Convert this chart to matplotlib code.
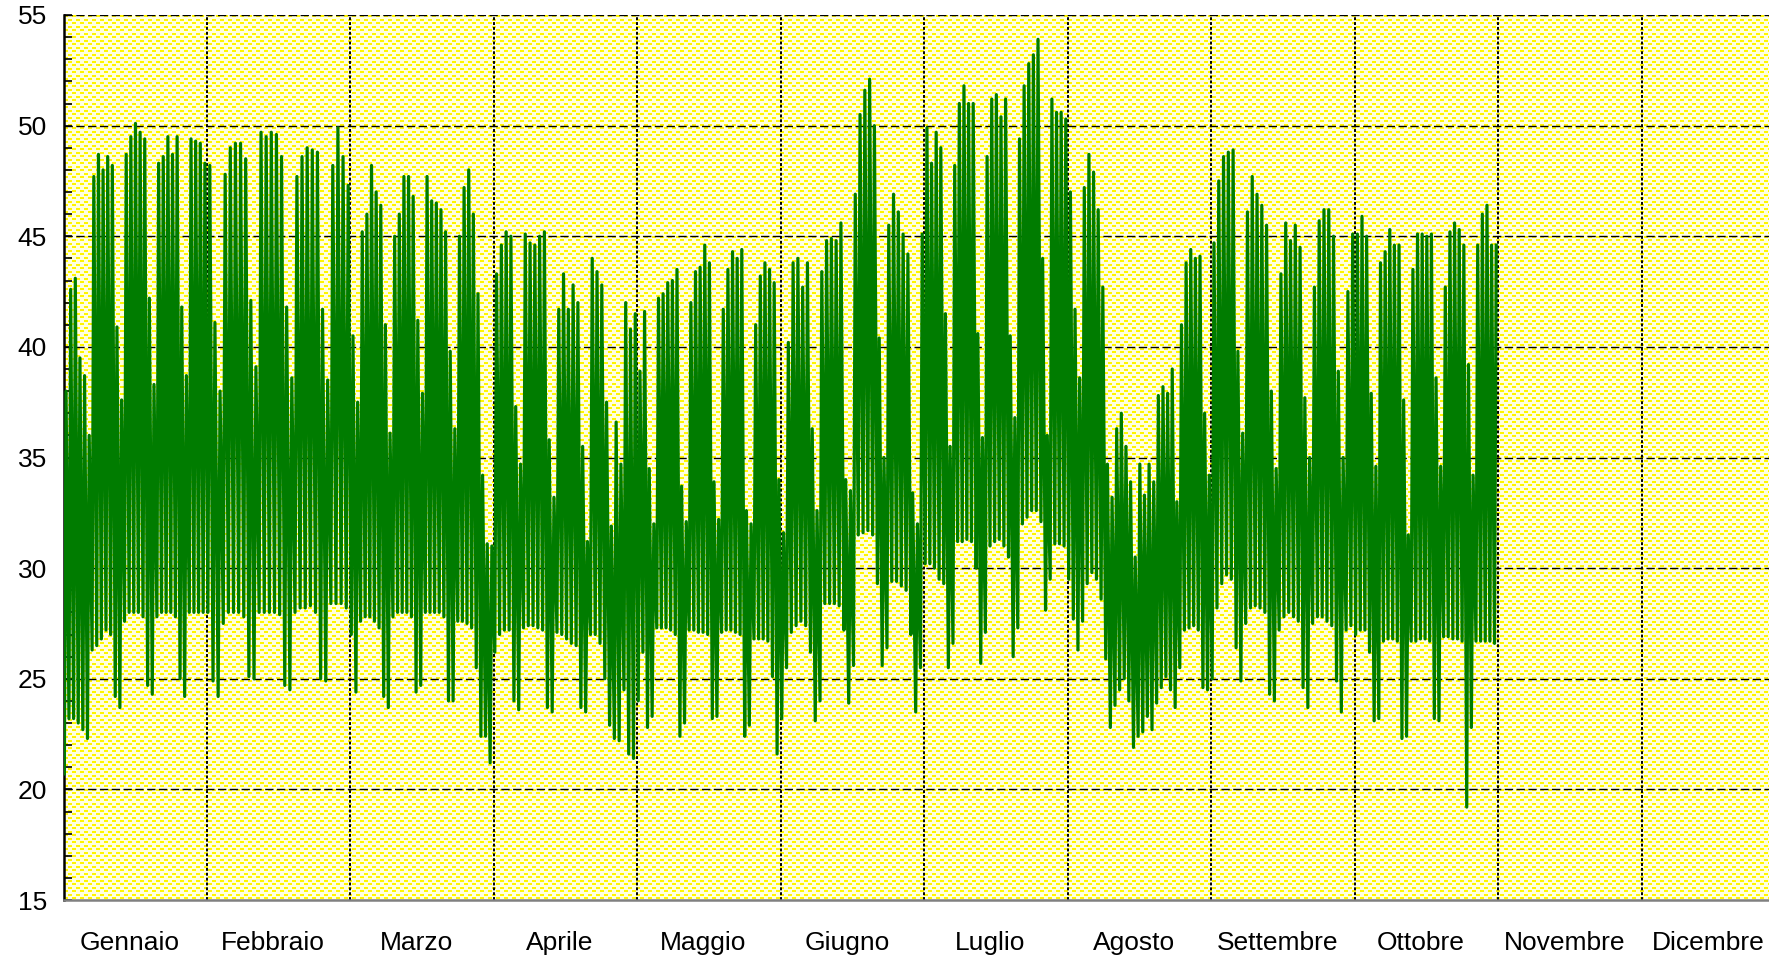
import numpy as np
import matplotlib
matplotlib.use("Agg")
import matplotlib.pyplot as plt
from matplotlib.ticker import MultipleLocator, FixedLocator, FixedFormatter

# Month labels on the x axis
mesi = ["Gennaio", "Febbraio", "Marzo", "Aprile", "Maggio", "Giugno",
        "Luglio", "Agosto", "Settembre", "Ottobre", "Novembre", "Dicembre"]

# Daily peak (pk) and night trough (mn) values, one entry per day
pk_gen = [38.0, 42.6, 43.1, 39.5, 38.7, 36.0, 47.7, 48.7, 48.0, 48.6, 48.2, 40.9, 37.6,
          48.7, 49.5, 50.1, 49.7, 49.4, 42.2, 38.3, 48.3, 48.6, 49.5, 48.7, 49.5, 41.8,
          38.7, 49.4, 49.3, 49.2, 48.3]
mn_gen = [20.7, 23.2, 23.2, 23.0, 22.7, 22.3, 26.3, 26.5, 26.8, 27.2, 27.0, 24.2, 23.7,
          27.6, 28.0, 28.0, 28.0, 27.8, 24.7, 24.3, 27.8, 28.0, 28.0, 28.0, 27.8, 25.0,
          24.2, 28.0, 28.0, 28.0, 28.0]

pk_feb = [48.2, 41.1, 38.0, 47.8, 49.0, 49.2, 49.2, 48.5, 42.1, 39.1, 49.7, 49.5, 49.7,
          49.6, 48.6, 41.8, 38.6, 47.7, 48.6, 49.0, 48.9, 48.8, 41.7, 38.5, 48.2, 49.9,
          48.6, 47.3]
mn_feb = [28.0, 24.9, 24.2, 27.5, 28.0, 28.0, 28.0, 27.8, 25.1, 25.0, 28.0, 28.0, 28.0,
          28.0, 27.9, 24.7, 24.5, 28.0, 28.2, 28.2, 28.3, 28.0, 25.0, 24.9, 28.4, 28.4,
          28.4, 28.2]

pk_mar = [40.5, 37.5, 45.2, 46.0, 48.2, 47.0, 46.4, 41.0, 36.1, 45.0, 46.0, 47.7, 47.7,
          46.8, 41.2, 37.9, 47.7, 46.6, 46.5, 46.2, 45.2, 39.8, 36.3, 45.0, 47.2, 48.0,
          46.0, 42.4, 34.2, 31.1, 31.0]
mn_mar = [27.0, 24.4, 27.6, 27.8, 27.8, 27.6, 27.3, 24.2, 23.7, 27.8, 28.0, 28.0, 28.0,
          27.8, 24.4, 24.7, 28.0, 28.0, 28.0, 28.0, 27.8, 24.0, 24.0, 27.6, 27.6, 27.5,
          27.3, 25.5, 22.4, 22.4, 21.2]

pk_apr = [43.3, 44.6, 45.2, 45.0, 37.3, 34.7, 45.1, 44.7, 44.6, 45.0, 45.2, 35.8, 33.2,
          41.7, 43.3, 41.7, 42.8, 42.0, 35.5, 31.2, 44.0, 43.4, 42.8, 37.5, 31.9, 36.6,
          34.7, 42.0, 40.8, 41.5]
mn_apr = [26.2, 27.0, 27.2, 27.2, 24.0, 23.6, 27.3, 27.4, 27.4, 27.3, 27.2, 23.7, 23.5,
          27.1, 27.0, 26.8, 26.6, 26.5, 23.7, 23.5, 27.0, 27.0, 26.6, 25.0, 22.9, 22.3,
          22.2, 24.5, 21.6, 21.4]

pk_mag = [38.9, 41.6, 34.5, 32.0, 42.2, 42.4, 42.9, 43.0, 43.5, 33.7, 32.1, 42.0, 43.4,
          43.6, 44.6, 43.8, 33.9, 32.2, 41.7, 43.5, 44.3, 44.0, 44.4, 32.6, 32.0, 41.0,
          43.2, 43.8, 43.5, 42.9, 34.0]
mn_mag = [24.0, 26.2, 22.8, 23.3, 27.3, 27.3, 27.3, 27.2, 27.0, 22.4, 23.0, 27.2, 27.2,
          27.1, 27.1, 27.0, 23.2, 23.3, 27.1, 27.2, 27.2, 27.1, 27.0, 22.4, 22.9, 26.8,
          26.8, 26.8, 26.7, 25.1, 21.6]

pk_giu = [31.6, 40.2, 43.8, 44.0, 42.7, 43.8, 36.3, 32.6, 43.4, 44.8, 44.9, 44.8, 45.6,
          34.0, 33.5, 46.9, 50.5, 51.6, 52.1, 50.0, 40.4, 35.0, 45.5, 46.9, 46.1, 45.1,
          44.2, 33.4, 32.0, 45.1]
mn_giu = [23.2, 25.5, 27.1, 27.4, 27.6, 27.4, 26.2, 23.1, 24.0, 28.4, 28.4, 28.4, 28.3,
          27.2, 23.9, 25.6, 31.5, 31.6, 31.7, 31.5, 29.3, 25.6, 26.4, 29.4, 29.4, 29.2,
          29.0, 27.0, 23.5, 25.5]

pk_lug = [49.9, 48.3, 49.7, 49.0, 41.5, 35.5, 48.2, 51.0, 51.8, 51.0, 51.0, 40.6, 35.9,
          48.6, 51.2, 51.4, 50.4, 51.2, 40.5, 36.8, 49.4, 51.8, 52.8, 53.2, 53.9, 44.0,
          36.0, 51.2, 50.6, 50.6, 50.3]
mn_lug = [30.2, 30.2, 30.0, 29.5, 29.3, 25.5, 26.6, 31.2, 31.2, 31.3, 31.2, 30.0, 25.7,
          27.1, 31.0, 31.2, 31.3, 31.0, 30.5, 26.0, 27.3, 32.0, 32.3, 32.6, 32.6, 32.1,
          28.1, 29.5, 31.1, 31.1, 31.0]

pk_ago = [47.0, 41.7, 38.6, 47.2, 48.7, 47.9, 46.2, 42.7, 34.7, 33.2, 36.3, 37.0, 35.5,
          33.9, 30.5, 34.7, 33.3, 34.7, 33.9, 37.8, 38.2, 37.9, 39.0, 33.0, 41.0, 43.8,
          44.4, 44.0, 44.1, 37.0, 34.2]
mn_ago = [29.5, 27.7, 26.3, 27.6, 29.3, 29.8, 29.5, 28.6, 25.9, 22.8, 23.8, 24.5, 25.0,
          24.0, 21.9, 22.4, 22.6, 23.3, 22.7, 23.9, 24.6, 25.1, 24.5, 23.7, 25.5, 27.2,
          27.3, 27.4, 27.2, 24.6, 24.5]

pk_set = [44.7, 47.5, 48.6, 48.8, 48.9, 39.8, 36.1, 46.1, 47.7, 46.9, 46.4, 45.5, 38.0,
          34.5, 43.3, 45.6, 44.8, 45.5, 44.5, 37.7, 35.0, 42.7, 45.7, 46.2, 46.2, 45.0,
          38.9, 35.0, 42.5, 45.1]
mn_set = [25.0, 28.2, 29.3, 29.7, 29.5, 26.4, 24.9, 27.5, 28.2, 28.3, 28.2, 28.0, 24.3,
          24.0, 27.2, 27.8, 28.0, 27.8, 27.6, 24.6, 23.7, 27.5, 27.8, 27.8, 27.6, 27.4,
          24.9, 23.5, 27.2, 27.4]

pk_ott = [45.1, 45.9, 45.0, 37.9, 34.6, 43.8, 44.3, 45.3, 44.6, 44.6, 37.6, 31.5, 43.5,
          45.1, 45.1, 45.0, 45.1, 38.6, 34.6, 42.7, 45.2, 45.6, 45.3, 44.6, 39.2, 34.2,
          44.6, 46.0, 46.4, 44.6, 44.6]
mn_ott = [27.0, 27.2, 27.2, 26.2, 23.1, 23.2, 26.7, 26.8, 26.8, 26.7, 22.3, 22.4, 26.7,
          26.7, 26.8, 26.8, 26.7, 23.2, 23.1, 26.9, 26.9, 26.8, 26.8, 26.7, 19.2, 22.8,
          26.7, 26.7, 26.7, 26.7, 26.6]

picchi = [pk_gen, pk_feb, pk_mar, pk_apr, pk_mag, pk_giu, pk_lug, pk_ago, pk_set, pk_ott]
minimi = [mn_gen, mn_feb, mn_mar, mn_apr, mn_mag, mn_giu, mn_lug, mn_ago, mn_set, mn_ott]

# Time axis: each month takes one unit of width
xs, ys = [], []
for m, (pk, mn) in enumerate(zip(picchi, minimi)):
    n = len(pk)
    for d in range(n):
        xs.append(m + (d + 0.18) / n)
        ys.append(mn[d])
        xs.append(m + (d + 0.55) / n)
        ys.append(pk[d])

W, H, DPI = 1769, 957, 100
fig = plt.figure(figsize=(W / DPI, H / DPI), dpi=DPI)
month_px = 143.48
left_px = 63.5
ax_l, ax_b = left_px / W, 57 / H
ax_w, ax_h = 12 * month_px / W, (900 - 15) / H
ax = fig.add_axes([ax_l, ax_b, ax_w, ax_h])

# Dotted yellow fill pattern for the plotting area
pw, ph = int(round(ax_w * W)), int(round(ax_h * H))
yy, xx = np.mgrid[0:ph, 0:pw]
row = yy % 7
dots = (((row == 0) | (row == 1)) & (xx % 8 < 4)) | \
       (((row == 4) | (row == 5)) & ((xx + 4) % 8 < 4))
tex = np.empty((ph, pw, 3))
tex[:] = np.array([255, 255, 225]) / 255
tex[dots] = np.array([255, 245, 0]) / 255
ax.imshow(tex, extent=[0, 12, 15, 55], aspect="auto", zorder=0,
          interpolation="nearest", origin="upper")

ax.plot(xs, ys, color="#007c00", lw=2.3, zorder=3)

ax.set_xlim(0, 12)
ax.set_ylim(15, 55)

# Grid
for v in range(20, 56, 5):
    ax.axhline(v, color="black", lw=1.0, ls=(0, (6, 2.5)), zorder=2)
for m in range(1, 12):
    ax.axvline(m, color="black", lw=1.4, ls=(0, (1.5, 1)), zorder=2)

# Axes decoration
for s in ["top", "right"]:
    ax.spines[s].set_visible(False)
ax.spines["left"].set_color("black")
ax.spines["left"].set_linewidth(1.8)
ax.spines["bottom"].set_color("#808080")
ax.spines["bottom"].set_linewidth(1.8)

ax.set_yticks(range(15, 56, 5))
ax.set_yticklabels([str(v) for v in range(15, 56, 5)])
ax.yaxis.set_minor_locator(MultipleLocator(1))
ax.tick_params(axis="y", which="both", direction="in", length=6, width=1.2,
               labelsize=19, pad=12)

ax.xaxis.set_major_locator(FixedLocator([]))
ax.xaxis.set_minor_locator(FixedLocator([m + 0.46 for m in range(12)]))
ax.xaxis.set_minor_formatter(FixedFormatter(mesi))
ax.tick_params(axis="x", which="both", length=0, labelsize=19, pad=22)

for lab in ax.get_yticklabels() + ax.get_xticklabels(minor=True):
    lab.set_fontfamily("Liberation Sans")

fig.savefig("out.png", dpi=DPI, facecolor="white")
